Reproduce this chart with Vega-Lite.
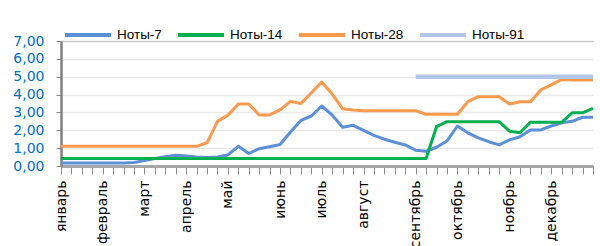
{
  "$schema": "https://vega.github.io/schema/vega-lite/v6.json",
  "width": 532,
  "height": 125,
  "autosize": {"type": "none"},
  "padding": {"left": 61, "top": 41, "right": 7, "bottom": 80},
  "background": "white",
  "data": {"values": [
    {"date": "2019-01-10", "Ноты-7": 0.17, "Ноты-14": 0.42, "Ноты-28": 1.1},
    {"date": "2019-01-17", "Ноты-7": 0.17, "Ноты-14": 0.42, "Ноты-28": 1.1},
    {"date": "2019-01-24", "Ноты-7": 0.17, "Ноты-14": 0.42, "Ноты-28": 1.1},
    {"date": "2019-01-31", "Ноты-7": 0.17, "Ноты-14": 0.42, "Ноты-28": 1.1},
    {"date": "2019-02-07", "Ноты-7": 0.17, "Ноты-14": 0.42, "Ноты-28": 1.1},
    {"date": "2019-02-14", "Ноты-7": 0.17, "Ноты-14": 0.42, "Ноты-28": 1.1},
    {"date": "2019-02-21", "Ноты-7": 0.17, "Ноты-14": 0.42, "Ноты-28": 1.1},
    {"date": "2019-02-28", "Ноты-7": 0.2, "Ноты-14": 0.42, "Ноты-28": 1.1},
    {"date": "2019-03-07", "Ноты-7": 0.3, "Ноты-14": 0.42, "Ноты-28": 1.1},
    {"date": "2019-03-14", "Ноты-7": 0.42, "Ноты-14": 0.42, "Ноты-28": 1.1},
    {"date": "2019-03-21", "Ноты-7": 0.52, "Ноты-14": 0.42, "Ноты-28": 1.1},
    {"date": "2019-03-28", "Ноты-7": 0.6, "Ноты-14": 0.42, "Ноты-28": 1.1},
    {"date": "2019-04-04", "Ноты-7": 0.56, "Ноты-14": 0.42, "Ноты-28": 1.1},
    {"date": "2019-04-11", "Ноты-7": 0.5, "Ноты-14": 0.42, "Ноты-28": 1.1},
    {"date": "2019-04-18", "Ноты-7": 0.47, "Ноты-14": 0.42, "Ноты-28": 1.3},
    {"date": "2019-04-25", "Ноты-7": 0.5, "Ноты-14": 0.42, "Ноты-28": 2.5},
    {"date": "2019-05-02", "Ноты-7": 0.62, "Ноты-14": 0.42, "Ноты-28": 2.85},
    {"date": "2019-05-09", "Ноты-7": 1.1, "Ноты-14": 0.42, "Ноты-28": 3.47},
    {"date": "2019-05-16", "Ноты-7": 0.7, "Ноты-14": 0.42, "Ноты-28": 3.47},
    {"date": "2019-05-23", "Ноты-7": 0.97, "Ноты-14": 0.42, "Ноты-28": 2.86},
    {"date": "2019-05-30", "Ноты-7": 1.08, "Ноты-14": 0.42, "Ноты-28": 2.86},
    {"date": "2019-06-06", "Ноты-7": 1.2, "Ноты-14": 0.42, "Ноты-28": 3.14},
    {"date": "2019-06-13", "Ноты-7": 1.9, "Ноты-14": 0.42, "Ноты-28": 3.62},
    {"date": "2019-06-20", "Ноты-7": 2.55, "Ноты-14": 0.42, "Ноты-28": 3.5},
    {"date": "2019-06-27", "Ноты-7": 2.8, "Ноты-14": 0.42, "Ноты-28": 4.1},
    {"date": "2019-07-04", "Ноты-7": 3.36, "Ноты-14": 0.42, "Ноты-28": 4.7},
    {"date": "2019-07-11", "Ноты-7": 2.85, "Ноты-14": 0.42, "Ноты-28": 4.03},
    {"date": "2019-07-18", "Ноты-7": 2.17, "Ноты-14": 0.42, "Ноты-28": 3.2},
    {"date": "2019-07-25", "Ноты-7": 2.28, "Ноты-14": 0.42, "Ноты-28": 3.14},
    {"date": "2019-08-01", "Ноты-7": 2.0, "Ноты-14": 0.42, "Ноты-28": 3.1},
    {"date": "2019-08-08", "Ноты-7": 1.72, "Ноты-14": 0.42, "Ноты-28": 3.1},
    {"date": "2019-08-15", "Ноты-7": 1.5, "Ноты-14": 0.42, "Ноты-28": 3.1},
    {"date": "2019-08-22", "Ноты-7": 1.33, "Ноты-14": 0.42, "Ноты-28": 3.1},
    {"date": "2019-08-29", "Ноты-7": 1.18, "Ноты-14": 0.42, "Ноты-28": 3.1},
    {"date": "2019-09-05", "Ноты-7": 0.88, "Ноты-14": 0.42, "Ноты-28": 3.1, "Ноты-91": 5.0},
    {"date": "2019-09-12", "Ноты-7": 0.82, "Ноты-14": 0.42, "Ноты-28": 2.9, "Ноты-91": 5.0},
    {"date": "2019-09-19", "Ноты-7": 1.05, "Ноты-14": 2.2, "Ноты-28": 2.9, "Ноты-91": 5.0},
    {"date": "2019-09-26", "Ноты-7": 1.4, "Ноты-14": 2.48, "Ноты-28": 2.9, "Ноты-91": 5.0},
    {"date": "2019-10-03", "Ноты-7": 2.24, "Ноты-14": 2.48, "Ноты-28": 2.9, "Ноты-91": 5.0},
    {"date": "2019-10-10", "Ноты-7": 1.86, "Ноты-14": 2.48, "Ноты-28": 3.6, "Ноты-91": 5.0},
    {"date": "2019-10-17", "Ноты-7": 1.58, "Ноты-14": 2.48, "Ноты-28": 3.88, "Ноты-91": 5.0},
    {"date": "2019-10-24", "Ноты-7": 1.36, "Ноты-14": 2.48, "Ноты-28": 3.88, "Ноты-91": 5.0},
    {"date": "2019-10-31", "Ноты-7": 1.18, "Ноты-14": 2.48, "Ноты-28": 3.88, "Ноты-91": 5.0},
    {"date": "2019-11-07", "Ноты-7": 1.46, "Ноты-14": 1.95, "Ноты-28": 3.47, "Ноты-91": 5.0},
    {"date": "2019-11-14", "Ноты-7": 1.64, "Ноты-14": 1.86, "Ноты-28": 3.6, "Ноты-91": 5.0},
    {"date": "2019-11-21", "Ноты-7": 2.02, "Ноты-14": 2.45, "Ноты-28": 3.6, "Ноты-91": 5.0},
    {"date": "2019-11-28", "Ноты-7": 2.02, "Ноты-14": 2.45, "Ноты-28": 4.26, "Ноты-91": 5.0},
    {"date": "2019-12-05", "Ноты-7": 2.24, "Ноты-14": 2.45, "Ноты-28": 4.54, "Ноты-91": 5.0},
    {"date": "2019-12-12", "Ноты-7": 2.42, "Ноты-14": 2.45, "Ноты-28": 4.85, "Ноты-91": 5.0},
    {"date": "2019-12-19", "Ноты-7": 2.5, "Ноты-14": 2.98, "Ноты-28": 4.82, "Ноты-91": 5.0},
    {"date": "2019-12-26", "Ноты-7": 2.73, "Ноты-14": 2.98, "Ноты-28": 4.82, "Ноты-91": 5.0},
    {"date": "2020-01-02", "Ноты-7": 2.73, "Ноты-14": 3.23, "Ноты-28": 4.82, "Ноты-91": 5.0}
  ]},
  "transform": [
    {"fold": ["Ноты-7", "Ноты-14", "Ноты-28", "Ноты-91"], "as": ["series", "value"]}
  ],
  "mark": {"type": "line", "strokeJoin": "round"},
  "encoding": {
    "x": {
      "field": "date",
      "type": "ordinal",
      "scale": {"type": "point", "padding": 0},
      "axis": {
        "title": null,
        "labelAngle": -90,
        "labelExpr": "(utcyear(toDate(datum.value)) == 2019 && (utcdate(toDate(datum.value)) <= 7 || (utcmonth(toDate(datum.value)) == 0 && utcdate(toDate(datum.value)) == 10))) ? ['январь','февраль','март','апрель','май','июнь','июль','август','сентябрь','октябрь','ноябрь','декабрь'][utcmonth(toDate(datum.value))] : ''",
        "labelFont": "DejaVu Sans",
        "labelFontSize": 14,
        "labelColor": "#000000",
        "labelOverlap": false,
        "labelBound": false,
        "labelPadding": 6,
        "tickSize": 8,
        "tickColor": "#8c8c8c",
        "tickWidth": 1,
        "domainColor": "#a6a6a6",
        "domainWidth": 3,
        "grid": false
      }
    },
    "y": {
      "field": "value",
      "type": "quantitative",
      "scale": {"domain": [0, 7], "nice": false},
      "axis": {
        "title": null,
        "values": [0, 1, 2, 3, 4, 5, 6, 7],
        "labelExpr": "replace(format(datum.value, '.2f'), '.', ',')",
        "labelFont": "DejaVu Sans",
        "labelFontSize": 14,
        "labelColor": "#0070C0",
        "labelPadding": 12,
        "tickSize": 5,
        "tickColor": "#8c8c8c",
        "domainColor": "#808080",
        "domainWidth": 2.5,
        "grid": true,
        "gridColor": {"condition": {"test": "datum.value == 7", "value": "#c8c8c8"}, "value": "#e9e9e9"},
        "gridWidth": 1.5
      }
    },
    "color": {
      "field": "series",
      "type": "nominal",
      "scale": {
        "domain": ["Ноты-7", "Ноты-14", "Ноты-28", "Ноты-91"],
        "range": ["#5B8FD6", "#00B050", "#F99A4E", "#B4C6E7"]
      },
      "legend": {
        "title": null,
        "orient": "none",
        "legendX": 2,
        "legendY": -31,
        "direction": "horizontal",
        "columns": 4,
        "symbolType": "stroke",
        "symbolSize": 2116,
        "symbolStrokeWidth": 4,
        "labelFont": "Liberation Sans",
        "labelFontSize": 13.5,
        "labelColor": "#000000",
        "labelOffset": 4,
        "columnPadding": 8
      }
    },
    "strokeWidth": {
      "condition": {"test": "datum.series == 'Ноты-91'", "value": 4.5},
      "value": 3
    }
  },
  "config": {"view": {"stroke": null}}
}
